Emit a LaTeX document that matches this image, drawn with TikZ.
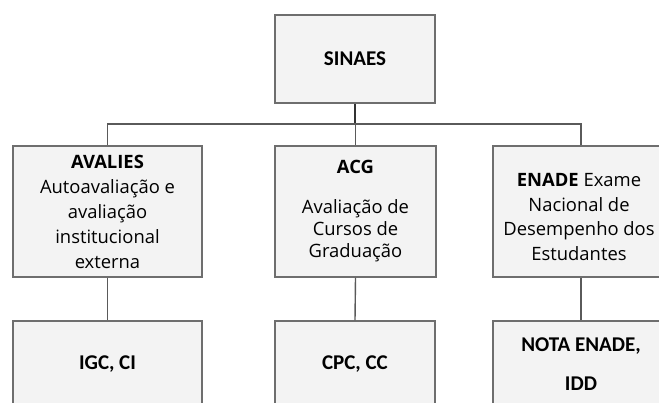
\documentclass[tikz,border=0pt]{standalone}
\usepackage{fontspec}
\setmainfont{Open Sans}
\newfontfamily\cbf{Carlito}
\definecolor{boxfill}{HTML}{F3F3F3}
\definecolor{boxline}{HTML}{6E6E6E}
\definecolor{connc}{HTML}{5A5A5A}
\begin{document}
\begin{tikzpicture}[x=1pt,y=-1pt,
  box/.style={draw=boxline, fill=boxfill, line width=1.4pt, inner sep=0pt, align=center,
              font=\fontsize{18.4}{25}\selectfont},
  titlebox/.style={box, font=\cbf\bfseries\fontsize{21}{24}\selectfont},
  plaintext/.style={inner sep=0pt, align=center, font=\fontsize{18.4}{24.4}\selectfont},
  conn/.style={draw=connc, line width=1.4pt}]
\useasboundingbox (0,0) rectangle (659,403);
\clip (0,0) rectangle (659,403);
\node[titlebox, minimum width=160pt, minimum height=88pt] (sinaes) at (355,59) {SINAES};
\node[box, minimum width=189pt, minimum height=131pt] (avalies) at (107.5,211.5)
  {\textbf{AVALIES}\\Autoavaliação e\\avaliação\\institucional\\externa};
\node[box, minimum width=161pt, minimum height=131pt, font=\fontsize{18.4}{22}\selectfont] (acg) at (355.5,211.5)
  {\textbf{ACG}\\[18pt]Avaliação de\\Cursos de\\Graduação};
\node[box, minimum width=176pt, minimum height=131pt] (enade) at (581,211.5) {};
\node[plaintext] (enadetext) at (579,217)
  {\textbf{ENADE} Exame\\Nacional de\\Desempenho dos\\Estudantes};
\node[titlebox, minimum width=189pt, minimum height=86pt] (igc) at (107.5,364) {IGC, CI};
\node[titlebox, minimum width=160pt, minimum height=86pt] (cpc) at (355,364) {CPC, CC};
\node[titlebox, minimum width=176pt, minimum height=86pt, font=\cbf\bfseries\fontsize{21}{39}\selectfont] (nota) at (581,364) {NOTA ENADE,\\IDD};
\coordinate (bus) at (0,124);
\draw[conn, draw=black!80] (sinaes.south) -- (sinaes.south |- bus);
\draw[conn] (avalies.north) -- (avalies.north |- bus) -- (enade.north |- bus) -- (enade.north);
\draw[conn] (acg.north) -- (acg.north |- bus);
\draw[conn] (avalies.south) -- (igc.north);
\draw[conn] (acg.south) -- (cpc.north);
\draw[conn] (enade.south) -- (nota.north);
\end{tikzpicture}
\end{document}
